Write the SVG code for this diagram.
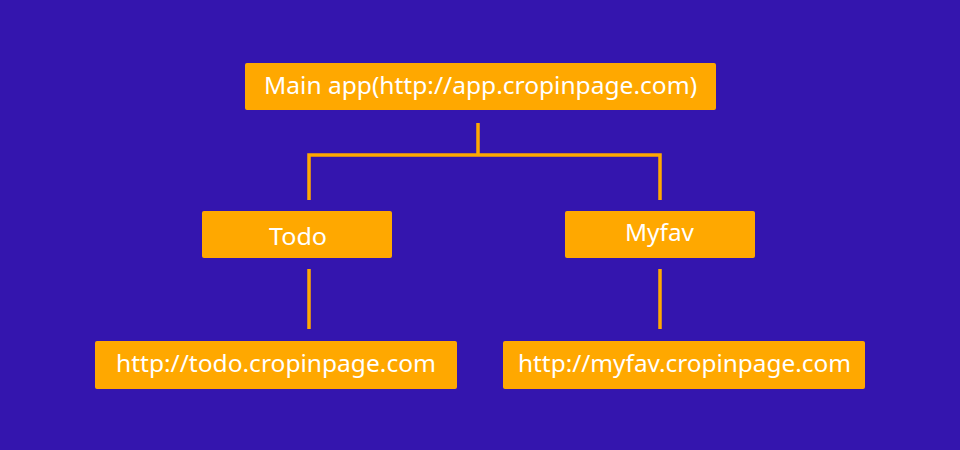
<svg xmlns="http://www.w3.org/2000/svg" width="960" height="450" viewBox="0 0 960 450">
<style>
.box{fill:#FFA800;}
.lbl{font-family:"Noto Sans","Open Sans","DejaVu Sans",sans-serif;font-size:23.5px;fill:#ffffff;text-anchor:middle;}
.con{stroke:#FFA800;stroke-width:3.5;fill:none;}
</style>
<rect x="0" y="0" width="960" height="450" fill="#3415AE"/>
<g id="connectors">
<path class="con" d="M478 123 V155"/>
<path class="con" d="M309 200 V155 H660 V200"/>
<path class="con" d="M309 269 V329"/>
<path class="con" d="M660 269 V329"/>
</g>
<g id="main">
<rect class="box" x="245" y="63" width="471" height="47" rx="2"/>
<text class="lbl" x="480.5" y="94" textLength="433" lengthAdjust="spacingAndGlyphs">Main app(http://app.cropinpage.com)</text>
</g>
<g id="todo">
<rect class="box" x="202" y="211" width="190" height="47" rx="2"/>
<text class="lbl" x="298" y="245" textLength="58" lengthAdjust="spacingAndGlyphs">Todo</text>
</g>
<g id="myfav">
<rect class="box" x="565" y="211" width="190" height="47" rx="2"/>
<text class="lbl" x="659.5" y="241" textLength="69" lengthAdjust="spacingAndGlyphs">Myfav</text>
</g>
<g id="todo-url">
<rect class="box" x="95" y="341" width="362" height="48" rx="2"/>
<text class="lbl" x="276" y="372" textLength="320" lengthAdjust="spacingAndGlyphs">http://todo.cropinpage.com</text>
</g>
<g id="myfav-url">
<rect class="box" x="503" y="341" width="362" height="48" rx="2"/>
<text class="lbl" x="684.5" y="372" textLength="333" lengthAdjust="spacingAndGlyphs">http://myfav.cropinpage.com</text>
</g>
</svg>
